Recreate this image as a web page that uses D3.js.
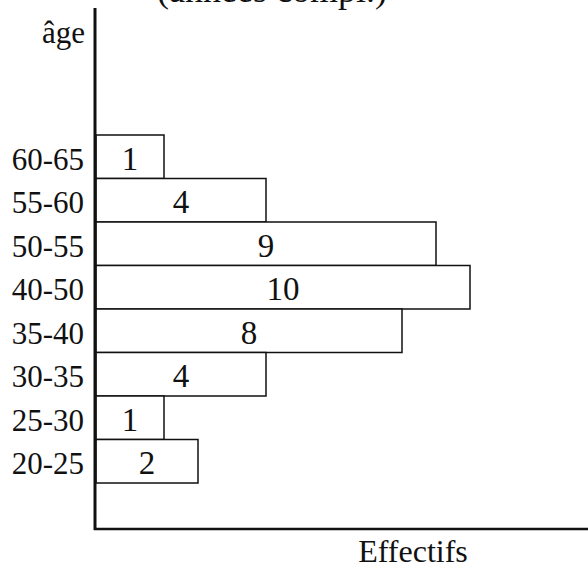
<!DOCTYPE html>
<html>

<head>
    <meta charset="utf-8">
    <style>
        body {
            margin: 0;
            background: #fff;
        }

        text {
            font-family: "Liberation Serif", "Times New Roman", serif;
            fill: #111;
        }

        .bar {
            fill: #fff;
            stroke: #111;
            stroke-width: 1.5px;
        }

        .axis-line {
            stroke: #111;
        }
    </style>
</head>

<body>
    <svg width="588" height="568"></svg>
    <script src="https://cdn.jsdelivr.net/npm/d3@7"></script>
    <script>
        // classes d'âge, du haut vers le bas
        var classes = ["60-65", "55-60", "50-55", "40-50", "35-40", "30-35", "25-30", "20-25"];
        var effectifs = [1, 4, 9, 10, 8, 4, 1, 2];

        var title = "(années compl.)",
            yTitle = "âge",
            xTitle = "Effectifs";

        var svg = d3.select("svg"),
            x0 = 96;

        var y = d3.scaleBand()
            .domain(classes)
            .range([135, 483])
            .padding(0);

        // échelle approximative, le dessin d'origine n'est pas exactement proportionnel
        var x = d3.scaleLinear()
            .domain([-1, 10])
            .range([x0, 470]);

        var data = classes.map(function(c, i) {
            return { classe: c, n: effectifs[i] };
        });

        svg.append("g").selectAll("rect")
            .data(data)
            .enter().append("rect")
            .attr("class", "bar")
            .attr("x", x0)
            .attr("y", function(d) { return y(d.classe); })
            .attr("width", function(d) { return x(d.n) - x0; })
            .attr("height", y.bandwidth());

        svg.append("g").selectAll("text")
            .data(data)
            .enter().append("text")
            .attr("x", function(d) { return (x0 + x(d.n)) / 2; })
            .attr("y", function(d) { return y(d.classe) + y.bandwidth() / 2 + 13; })
            .attr("text-anchor", "middle")
            .style("font-size", "33px")
            .text(function(d) { return d.n; });

        // étiquettes des classes
        svg.append("g").selectAll("text")
            .data(classes)
            .enter().append("text")
            .attr("x", 84)
            .attr("y", function(d) { return y(d) + y.bandwidth() / 2 + 13; })
            .attr("text-anchor", "end")
            .style("font-size", "31px")
            .text(function(d) { return d; });

        // axes
        svg.append("line")
            .attr("class", "axis-line")
            .attr("x1", 95).attr("x2", 95)
            .attr("y1", 8).attr("y2", 530)
            .style("stroke-width", 3);

        svg.append("line")
            .attr("class", "axis-line")
            .attr("x1", 94).attr("x2", 588)
            .attr("y1", 529).attr("y2", 529)
            .style("stroke-width", 2.5);

        svg.append("text")
            .attr("x", 85)
            .attr("y", 43)
            .attr("text-anchor", "end")
            .style("font-size", "31px")
            .text(yTitle);

        svg.append("text")
            .attr("x", 413)
            .attr("y", 562)
            .attr("text-anchor", "middle")
            .style("font-size", "32px")
            .text(xTitle);

        svg.append("text")
            .attr("x", 157)
            .attr("y", 2)
            .style("font-size", "36px")
            .text(title);
    </script>
</body>

</html>
